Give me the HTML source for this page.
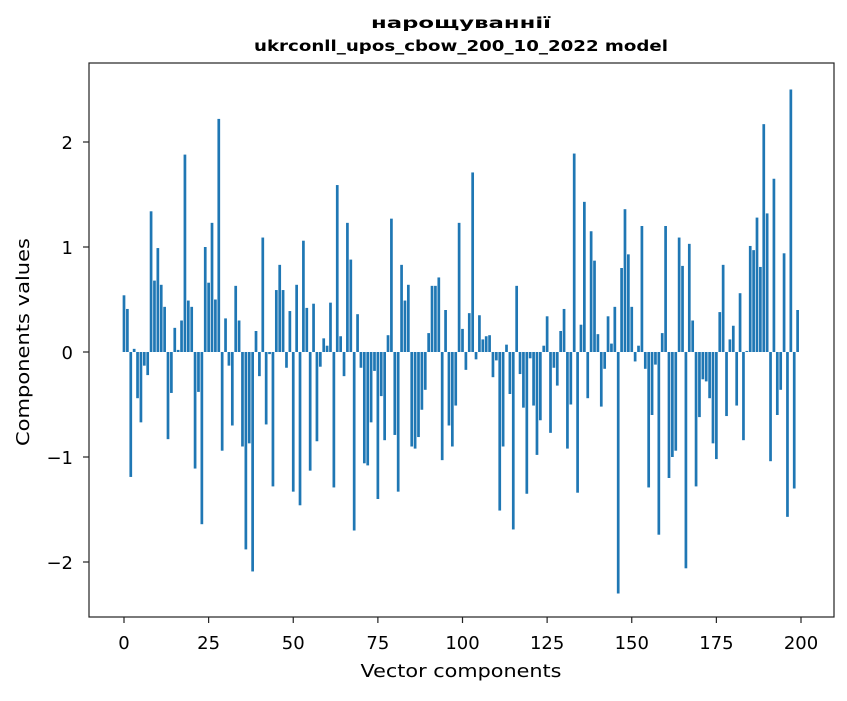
<!DOCTYPE html>
<html><head><meta charset="utf-8"><style>
body{margin:0;background:#fff;}
svg text{font-family:"DejaVu Sans","Liberation Sans",sans-serif;fill:#000;}
</style></head><body>
<svg id="chart" width="847" height="696" xmlns="http://www.w3.org/2000/svg">
<rect x="0" y="0" width="847" height="696" fill="#fff"/>
<text x="461" y="28" text-anchor="middle" font-size="15" font-weight="bold" textLength="180" lengthAdjust="spacingAndGlyphs">нарощуваннії</text>
<text x="461" y="51" text-anchor="middle" font-size="15" font-weight="bold" textLength="414" lengthAdjust="spacingAndGlyphs">ukrconll_upos_cbow_200_10_2022 model</text>
<g id="bars"></g>
<g id="xticks"></g>
<g id="yticks"></g>
<rect x="89" y="63" width="745" height="554" fill="none" stroke="#222" stroke-width="1.2"/>
<text x="461" y="677" text-anchor="middle" font-size="18" textLength="201" lengthAdjust="spacingAndGlyphs">Vector components</text>
<text x="29" y="342" text-anchor="middle" font-size="18" textLength="208" lengthAdjust="spacingAndGlyphs" transform="rotate(-90 29 342)">Components values</text>
</svg>
<script>
const values = [0.54,0.41,-1.19,0.03,-0.44,-0.67,-0.13,-0.22,1.34,0.68,0.99,0.64,0.43,-0.83,-0.39,0.23,0.02,0.30,1.88,0.49,0.43,-1.11,-0.38,-1.64,1.00,
0.66,1.23,0.50,2.22,-0.94,0.32,-0.13,-0.70,0.63,0.30,-0.90,-1.88,-0.87,-2.09,0.20,-0.23,1.09,-0.69,-0.02,-1.28,0.59,0.83,0.59,-0.15,0.39,
-1.33,0.64,-1.46,1.06,0.42,-1.13,0.46,-0.85,-0.14,0.13,0.06,0.47,-1.29,1.59,0.15,-0.23,1.23,0.88,-1.70,0.36,-0.15,-1.06,-1.08,-0.67,-0.18,
-1.40,-0.42,-0.84,0.16,1.27,-0.79,-1.33,0.83,0.49,0.64,-0.90,-0.92,-0.81,-0.55,-0.36,0.18,0.63,0.63,0.71,-1.03,0.40,-0.70,-0.90,-0.51,1.23,
0.22,-0.17,0.37,1.71,-0.07,0.35,0.12,0.15,0.16,-0.24,-0.08,-1.51,-0.90,0.07,-0.40,-1.69,0.63,-0.21,-0.53,-1.35,-0.06,-0.51,-0.98,-0.65,0.06,
0.34,-0.77,-0.15,-0.32,0.20,0.41,-0.92,-0.50,1.89,-1.34,0.26,1.43,-0.44,1.15,0.87,0.17,-0.52,-0.16,0.34,0.08,0.43,-2.30,0.80,1.36,0.93,
0.43,-0.09,0.06,1.20,-0.16,-1.29,-0.60,-0.12,-1.74,0.18,1.20,-1.20,-1.00,-0.94,1.09,0.82,-2.06,1.03,0.30,-1.28,-0.62,-0.26,-0.28,-0.44,-0.87,
-1.02,0.38,0.83,-0.61,0.12,0.25,-0.51,0.56,-0.84,0.01,1.01,0.97,1.28,0.81,2.17,1.32,-1.04,1.65,-0.60,-0.36,0.94,-1.57,2.50,-1.30,0.40];
const xTickValues = [0,25,50,75,100,125,150,175,200];
const yTickValues = [-2,-1,0,1,2];
const yTickLabels = ["\u22122","\u22121","0","1","2"];

const NS="http://www.w3.org/2000/svg";
const x0=124, xs=(801-124)/200, y0=352, ys=105;
function xScale(v){return x0+v*xs;}
function yScale(v){return y0-v*ys;}
const bars=document.getElementById('bars');
values.forEach((v,i)=>{
  const r=document.createElementNS(NS,'rect');
  const w=0.8*xs;
  r.setAttribute('x',xScale(i)-w/2);
  r.setAttribute('width',w);
  r.setAttribute('y',Math.min(yScale(v),yScale(0)));
  r.setAttribute('height',Math.abs(yScale(v)-yScale(0)));
  r.setAttribute('fill','#1f77b4');
  
  
  bars.appendChild(r);
});
const xt=document.getElementById('xticks');
xTickValues.forEach(v=>{
  const l=document.createElementNS(NS,'line');
  l.setAttribute('x1',xScale(v));l.setAttribute('x2',xScale(v));
  l.setAttribute('y1',617);l.setAttribute('y2',623);l.setAttribute('stroke','#222');l.setAttribute('stroke-width','1.2');
  
  
  xt.appendChild(l);
  const t=document.createElementNS(NS,'text');
  t.setAttribute('x',xScale(v));t.setAttribute('y',649);
  t.setAttribute('text-anchor','middle');t.setAttribute('font-size','18');
  t.textContent=v;
  
  
  xt.appendChild(t);
});
const yt=document.getElementById('yticks');
yTickValues.forEach((v,i)=>{
  const l=document.createElementNS(NS,'line');
  l.setAttribute('x1',83);l.setAttribute('x2',89);
  l.setAttribute('y1',yScale(v));l.setAttribute('y2',yScale(v));l.setAttribute('stroke','#222');l.setAttribute('stroke-width','1.2');
  
  
  yt.appendChild(l);
  const t=document.createElementNS(NS,'text');
  t.setAttribute('x',73);t.setAttribute('y',yScale(v)+7);
  t.setAttribute('text-anchor','end');t.setAttribute('font-size','18');
  t.textContent=yTickLabels[i];
  
  
  yt.appendChild(t);
});
</script>
</body></html>
